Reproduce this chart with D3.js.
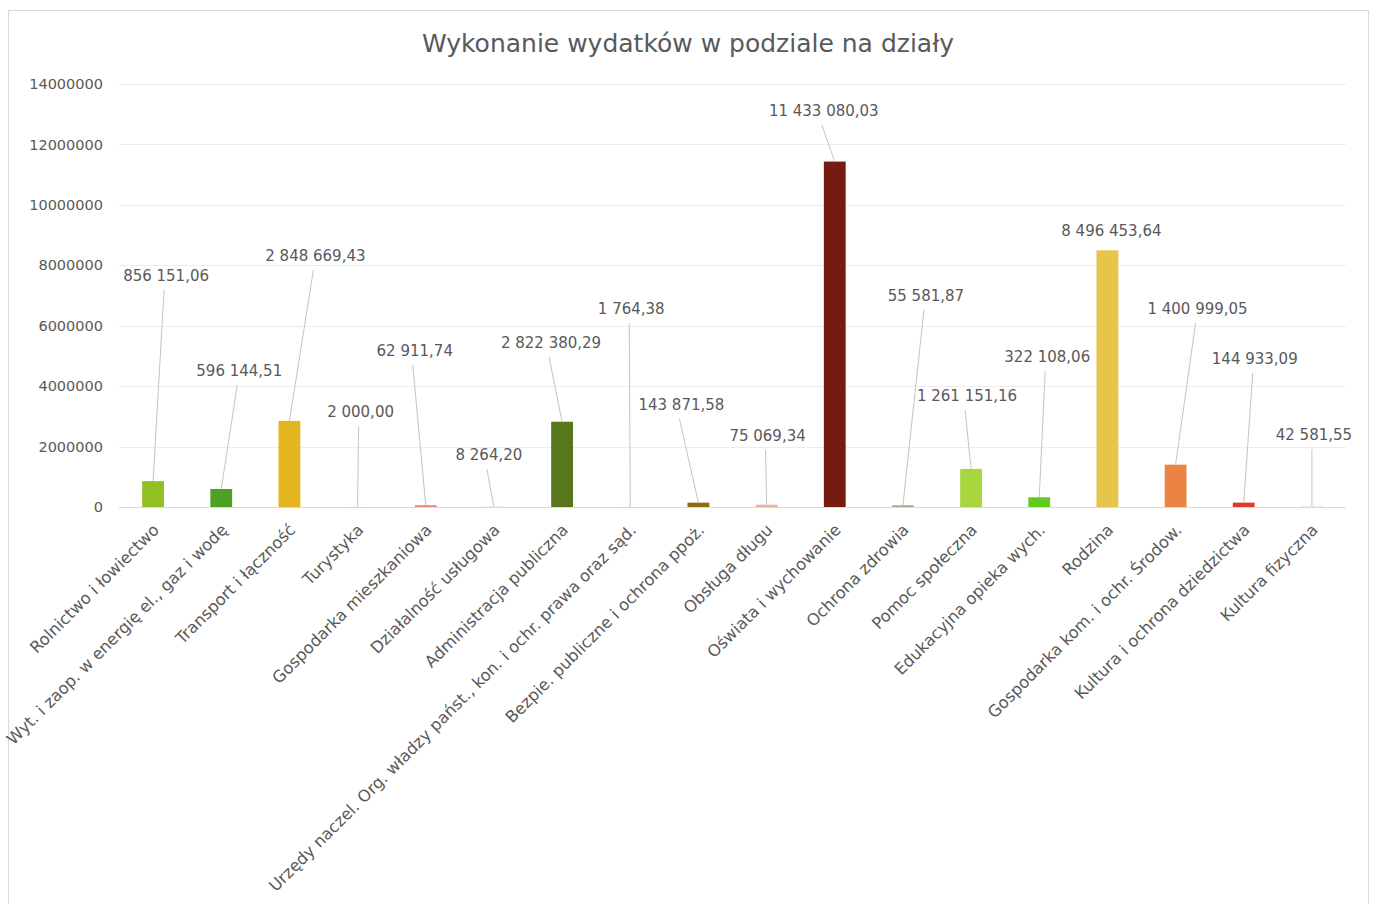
<!DOCTYPE html>
<html>
<head>
<meta charset="utf-8">
<script src="https://cdn.jsdelivr.net/npm/d3@7"></script>
<style>
  body { margin: 0; background: #fff; }
  text { font-family: "DejaVu Sans", sans-serif; fill: #595959; }
</style>
</head>
<body>
<div id="chart"></div>
<script>
(function() {
	var categories = [
		"Rolnictwo i łowiectwo",
		"Wyt. i zaop. w energię el., gaz i wodę",
		"Transport i łączność",
		"Turystyka",
		"Gospodarka mieszkaniowa",
		"Działalność usługowa",
		"Administracja publiczna",
		"Urzędy naczel. Org. władzy państ., kon. i ochr. prawa oraz sąd.",
		"Bezpie. publiczne i ochrona ppoż.",
		"Obsługa długu",
		"Oświata i wychowanie",
		"Ochrona zdrowia",
		"Pomoc społeczna",
		"Edukacyjna opieka wych.",
		"Rodzina",
		"Gospodarka kom. i ochr. Środow.",
		"Kultura i ochrona dziedzictwa",
		"Kultura fizyczna"
	];

	var values = [856151.06, 596144.51, 2848669.43, 2000.00, 62911.74, 8264.20, 2822380.29, 1764.38,
		143871.58, 75069.34, 11433080.03, 55581.87, 1261151.16, 322108.06, 8496453.64, 1400999.05,
		144933.09, 42581.55];

	var valueLabels = ["856 151,06", "596 144,51", "2 848 669,43", "2 000,00", "62 911,74", "8 264,20",
		"2 822 380,29", "1 764,38", "143 871,58", "75 069,34", "11 433 080,03", "55 581,87",
		"1 261 151,16", "322 108,06", "8 496 453,64", "1 400 999,05", "144 933,09", "42 581,55"];

	var yTicks = [0, 2000000, 4000000, 6000000, 8000000, 10000000, 12000000, 14000000];

	// colours per bar
	var colors = ["#92c022", "#4ea024", "#e5b51f", "#a5a5a5", "#e88e85", "#c9c9c9", "#58761b", "#bdbdbd",
		"#8b6d14", "#e5b49b", "#771b11", "#a9a58f", "#a9d63f", "#63c91e", "#e7c44a", "#eb8442",
		"#de3a2e", "#eeeeee"];

	// manual data label placement: height (in axis units) and horizontal shift in px
	var labelLevel = [7.65e6, 4.50e6, 8.31e6, 3.14e6, 5.16e6, 1.72e6, 5.43e6, 6.55e6, 3.38e6, 2.35e6,
		13.11e6, 6.98e6, 3.67e6, 4.96e6, 9.13e6, 6.55e6, 4.90e6, 2.38e6];
	var labelShift = [13, 18, 26, 3, -11, -5, -11, 1, -17, 1, -11, 23, -4, 8, 4, 22, 11, 2];

	var rows = categories.map(function(c, i) {
		return { cat: c, value: values[i], label: valueLabels[i], color: colors[i],
			level: labelLevel[i], shift: labelShift[i] };
	});

	var W = 1379, H = 904;
	var margin = { top: 84, left: 119, right: 33, bottom: 397 };

	var svg = d3.select("#chart")
		.append("svg")
		.attr("width", W)
		.attr("height", H);

	// outer frame
	svg.append("rect")
		.attr("x", 8.5).attr("y", 10.5)
		.attr("width", 1360).attr("height", 910)
		.attr("fill", "#fff")
		.attr("stroke", "#d9d9d9");

	svg.append("text")
		.attr("x", 688).attr("y", 52)
		.attr("text-anchor", "middle")
		.style("font-size", "25px")
		.text("Wykonanie wydatków w podziale na działy");

	var xScale = d3.scaleBand().domain(categories)
		.range([margin.left, W - margin.right])
		.paddingInner(0.68).paddingOuter(0.34);

	var yScale = d3.scaleLinear().domain([0, 14000000])
		.range([H - margin.bottom, margin.top]);

	function cx(d) { return xScale(d.cat) + xScale.bandwidth() / 2; }

	// grid
	svg.append("g").selectAll("line")
		.data(yTicks)
		.enter()
		.append("line")
		.attr("x1", margin.left).attr("x2", W - margin.right)
		.attr("y1", function(d) { return Math.round(yScale(d)) + 0.5; })
		.attr("y2", function(d) { return Math.round(yScale(d)) + 0.5; })
		.attr("stroke", function(d) { return d === 0 ? "#d9d9d9" : "#ececec"; });

	var yAxis = svg.append("g")
		.attr("transform", "translate(" + (margin.left - 16) + ",0)")
		.call(d3.axisLeft(yScale).tickValues(yTicks).tickSize(0).tickPadding(0).tickFormat(d3.format("d")));
	yAxis.select(".domain").remove();
	yAxis.selectAll("text").style("font-size", "14.5px").attr("fill", "#595959");

	// bars
	svg.selectAll("rect.bar")
		.data(rows)
		.enter()
		.append("rect")
		.attr("class", "bar")
		.attr("x", function(d) { return xScale(d.cat); })
		.attr("width", xScale.bandwidth())
		.attr("y", function(d) { return yScale(d.value); })
		.attr("height", function(d) { return yScale(0) - yScale(d.value); })
		.attr("fill", function(d) { return d.color; });

	// leader lines
	svg.selectAll("line.leader")
		.data(rows.filter(function(d) { return yScale(d.value) - yScale(d.level) > 30; }))
		.enter()
		.append("line")
		.attr("class", "leader")
		.attr("x1", function(d) { return cx(d) + d.shift - 2; })
		.attr("y1", function(d) { return yScale(d.level) + 14; })
		.attr("x2", function(d) { return cx(d); })
		.attr("y2", function(d) { return yScale(d.value); })
		.attr("stroke", "#c4c4c4")
		.attr("stroke-width", 1);

	// data labels
	svg.selectAll("text.val")
		.data(rows)
		.enter()
		.append("text")
		.attr("class", "val")
		.attr("x", function(d) { return cx(d) + d.shift; })
		.attr("y", function(d) { return yScale(d.level); })
		.attr("dy", "0.35em")
		.attr("text-anchor", "middle")
		.style("font-size", "15px")
		.text(function(d) { return d.label; });

	// category labels
	svg.selectAll("text.cat")
		.data(rows)
		.enter()
		.append("text")
		.attr("class", "cat")
		.attr("transform", function(d) {
			return "translate(" + (cx(d) + 7) + "," + (yScale(0) + 24) + ") rotate(-45)";
		})
		.attr("text-anchor", "end")
		.style("font-size", "16.3px")
		.text(function(d) { return d.cat; });
})();
</script>
</body>
</html>
